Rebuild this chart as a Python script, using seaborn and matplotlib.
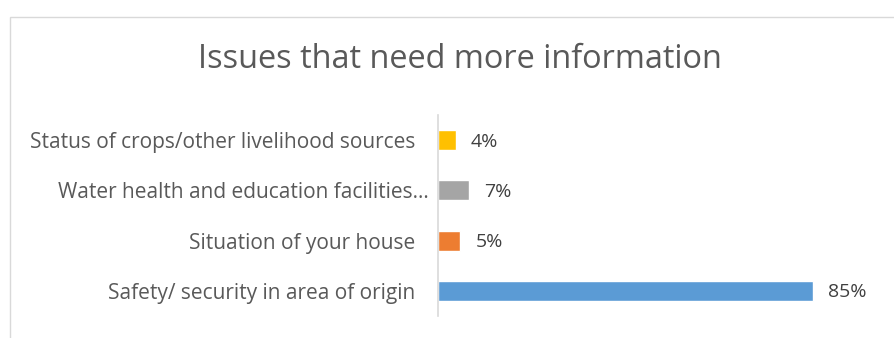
import matplotlib
matplotlib.use("Agg")
import matplotlib.pyplot as plt
import matplotlib.transforms as mtransforms
from matplotlib.patches import Rectangle
import seaborn as sns
import pandas as pd

categories = [
    "Status of crops/other livelihood sources",
    "Water health and education facilities…",
    "Situation of your house",
    "Safety/ security in area of origin",
]
values = [4, 7, 5, 85]
value_labels = ["4%", "7%", "5%", "85%"]
bar_colors = ["#FFC000", "#A5A5A5", "#ED7D31", "#5B9BD5"]
title = "Issues that need more information"

sns.set_theme(style="white")
plt.rcParams["font.family"] = ["Open Sans", "DejaVu Sans"]

W, H = 895, 338
fig = plt.figure(figsize=(W / 100, H / 100), dpi=100)
fig.patch.set_facecolor("white")

# chart frame (only its top and left edges fall inside the canvas)
fig.add_artist(Rectangle((10.5 / W, -0.5), 2.0, 1.5 - 16.5 / H,
                         transform=fig.transFigure, fill=False,
                         edgecolor="#D9D9D9", linewidth=1.0))

ax = fig.add_axes([438 / W, 1 - 316 / H, 441 / W, (316 - 115) / H])

df = pd.DataFrame({"category": categories, "value": values})
sns.barplot(data=df, x="value", y="category", hue="category",
            palette=bar_colors, legend=False, width=0.4, ax=ax,
            saturation=1.0)

ax.set_xlim(0, 100)
ax.set_ylim(3.5, -0.5)
ax.set_xlabel("")
ax.set_ylabel("")
ax.set_xticks([])
for side in ["top", "right", "bottom"]:
    ax.spines[side].set_visible(False)
ax.spines["left"].set_color("#D9D9D9")
ax.spines["left"].set_linewidth(1.2)
ax.tick_params(axis="y", length=0, pad=16.5, labelsize=15, labelcolor="#595959")

# the truncated label sits closer to the axis
fig.canvas.draw()
trunc = ax.get_yticklabels()[1]
trunc.set_transform(trunc.get_transform() +
                    mtransforms.ScaledTranslation(14 / 100, 0, fig.dpi_scale_trans))

for i, (v, lab) in enumerate(zip(values, value_labels)):
    ax.annotate(lab, xy=(v, i), xytext=(11, -1), textcoords="offset points",
                va="center", ha="left", fontsize=14, color="#404040")

fig.text(460 / W, 1 - 60 / H, title, ha="center", va="center",
         fontsize=23.4, color="#595959")

fig.savefig("out.png", dpi=100, facecolor="white")
